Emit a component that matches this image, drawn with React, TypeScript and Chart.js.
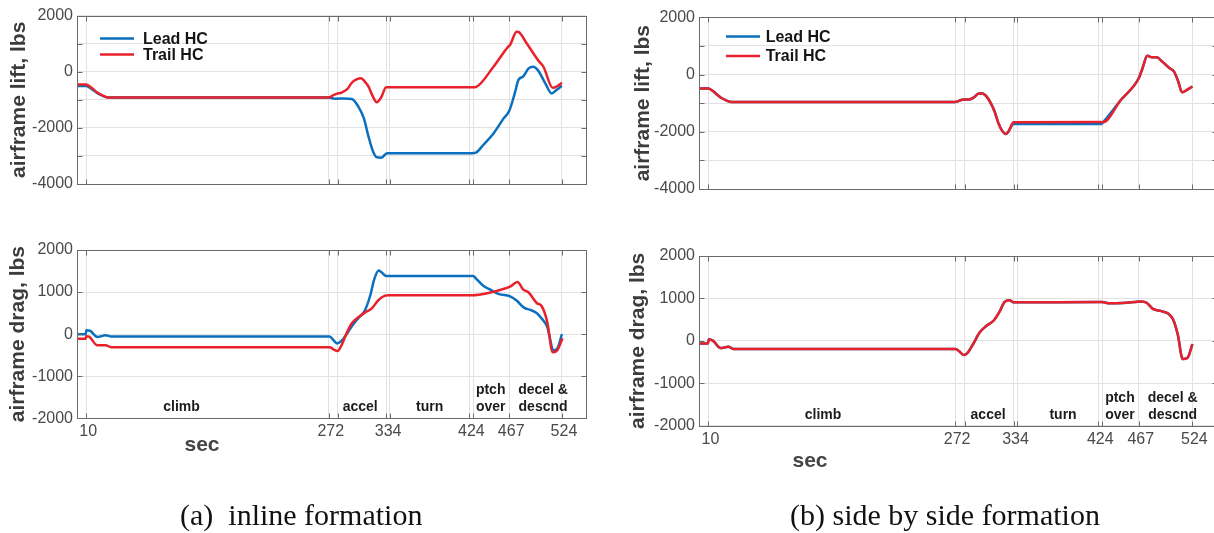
import React, { useEffect, useRef } from 'react';
import { Chart, registerables } from 'chart.js';
Chart.register(...registerables);

// ---------- shared axes ----------
const xTickValues = [10, 272, 282, 334, 338, 424, 428, 467, 524];
const xTickLabels = ['10', '272', '', '334', '', '424', '', '467', '524'];
const liftYTicks = [-4000, -3000, -2000, -1000, 0, 1000, 2000];
const liftYLabels = ['-4000', '', '-2000', '', '0', '', '2000'];
const dragYTicks = [-2000, -1000, 0, 1000, 2000];
const dragYLabels = ['-2000', '-1000', '0', '1000', '2000'];
const seriesNames = ['Lead HC', 'Trail HC'];

// ---------- (a) inline formation: lift ----------
const inlineLiftLeadT = [0, 10, 16, 22, 28, 34, 272, 280, 288, 297, 304, 310, 315, 320, 324, 329, 335, 427, 431, 439, 450, 461, 467, 473, 477, 482, 488, 493, 498, 506, 513, 518, 524];
const inlineLiftLeadV = [-510, -510, -620, -760, -860, -920, -920, -960, -950, -970, -1240, -1660, -2310, -2850, -3050, -3060, -2900, -2900, -2880, -2610, -2200, -1660, -1400, -770, -290, -170, 120, 180, 60, -410, -770, -650, -500];
const inlineLiftTrailT = [0, 10, 16, 22, 28, 34, 272, 277, 281, 286, 292, 297, 302, 307, 311, 315, 319, 324, 329, 334, 428, 431, 450, 466, 468, 475, 477, 486, 499, 504, 514, 519, 524];
const inlineLiftTrailV = [-450, -450, -580, -740, -850, -920, -920, -830, -780, -740, -620, -390, -270, -230, -350, -530, -830, -1090, -890, -550, -550, -540, 180, 900, 960, 1430, 1420, 1010, 380, 180, -570, -510, -390];

// ---------- (a) inline formation: drag ----------
const inlineDragLeadT = [0, 9.5, 10, 14, 22, 31, 37, 273, 277, 281, 286, 292, 297, 304, 311, 317, 321, 326, 329, 334, 428, 432, 439, 447, 456, 468, 475, 483, 490, 497, 502, 508, 515, 519, 524];
const inlineDragLeadV = [0, 0, 90, 80, -67, -28, -55, -55, -140, -220, -155, 20, 190, 380, 560, 930, 1290, 1510, 1470, 1380, 1380, 1300, 1150, 1050, 950, 900, 800, 630, 575, 495, 375, 180, -380, -340, 0];
const inlineDragTrailT = [0, 9.5, 10, 13, 22, 31, 37, 273, 277, 281.5, 286, 291.6, 297, 304, 311, 318.6, 325.8, 333, 337, 428, 443, 457, 468, 476, 482, 488, 497, 502, 508, 514, 519, 524.6];
const inlineDragTrailV = [-107, -107, -50, -60, -265, -265, -310, -310, -360, -400, -257, 36, 257, 400, 511, 614, 812, 915, 925, 925, 970, 1050, 1129, 1240, 1065, 990, 735, 670, 300, -430, -380, -100];

// ---------- (b) side by side formation: lift ----------
const sideLiftLeadT = [0, 10, 14, 23, 30, 34, 272, 276, 281, 287, 292, 297, 301, 305.5, 310, 314, 318, 322, 326, 329, 334, 427, 429, 448, 467, 471, 476, 481, 486, 492, 499, 504.5, 509, 513, 519, 524];
const sideLiftLeadV = [-490, -490, -560, -800, -920, -960, -960, -920, -870, -870, -800, -660, -660, -770, -1010, -1300, -1700, -1970, -2080, -1970, -1730, -1730, -1670, -890, -130, 220, 660, 600, 600, 450, 240, 100, -250, -620, -520, -420];
const sideLiftTrailT = [0, 10, 14, 23, 30, 34, 272, 276, 281, 287, 292, 297, 301, 305.5, 310, 314, 318, 322, 326, 329, 334, 427, 429, 448, 467, 471, 476, 481, 486, 492, 499, 504.5, 509, 513, 519, 524];
const sideLiftTrailV = [-490, -490, -560, -800, -920, -960, -960, -920, -870, -870, -800, -660, -660, -770, -1010, -1300, -1700, -1970, -2080, -1970, -1670, -1660, -1670, -890, -130, 220, 660, 600, 600, 450, 240, 100, -250, -620, -520, -420];

// ---------- (b) side by side formation: drag ----------
const sideDragLeadT = [0, 9.5, 10.5, 15, 23, 31, 37, 272.5, 276.6, 281, 284.7, 291, 298, 305, 313, 319.5, 324.4, 329.7, 334, 428, 436, 450, 462.6, 470, 475.7, 482, 491, 498.6, 503.5, 508.4, 513.7, 518.6, 524];
const sideDragLeadV = [-60, -60, 40, 0, -170, -140, -190, -190, -250, -335, -295, -80, 195, 350, 480, 700, 915, 955, 910, 915, 885, 893, 915, 930, 893, 753, 700, 637, 505, 155, -427, -404, -78];
const sideDragTrailT = [0, 9.5, 10.5, 15, 23, 31, 37, 272.5, 276.6, 281, 284.7, 291, 298, 305, 313, 319.5, 324.4, 329.7, 334, 428, 436, 450, 462.6, 470, 475.7, 482, 491, 498.6, 503.5, 508.4, 513.7, 518.6, 524];
const sideDragTrailV = [-60, -60, 40, 0, -170, -140, -190, -190, -250, -335, -295, -80, 195, 350, 480, 700, 915, 955, 910, 915, 885, 893, 915, 930, 893, 753, 700, 637, 505, 155, -427, -404, -78];

// ---------- phase annotations ----------
const phaseNames = [['climb'], ['accel'], ['turn'], ['ptch', 'over'], ['decel &', 'descnd']];
const inlinePhaseT = [113, 306, 381, 447, 503.6];
const sidePhaseT = [131.7, 307, 386.6, 447, 503];
const phaseLabelValue = -1740;

const BLUE = '#0A6FBE';
const RED = '#E8212B';
const GRID = '#e2e2e2';
const BOX = '#6b6b6b';
const SANS = "'Liberation Sans', Arial, Helvetica, sans-serif";
const Y_AXIS_W = 60;
const X_AXIS_H = 26;

type PanelCfg = {
  left: number; top: number; width: number; height: number;
  pad: { left: number; right: number; top: number; bottom: number };
  yMin: number; yMax: number; yTicks: number[]; yLabels: string[];
  yTitle: string; yTitleX: number;
  lead: [number[], number[]]; trail: [number[], number[]];
  showX: boolean;
  legend?: { x0: number; x1: number; tx: number; ys: number[] };
  phaseT?: number[];
  sec?: { x: number; y: number };
};

// pad = distances from canvas edges to the plot box
const panels: PanelCfg[] = [
  {
    left: 0, top: 0, width: 607, height: 230,
    pad: { left: 77, right: 21, top: 15.7, bottom: 46 },
    yMin: -4000, yMax: 2000, yTicks: liftYTicks, yLabels: liftYLabels,
    yTitle: 'airframe lift, lbs', yTitleX: 19,
    lead: [inlineLiftLeadT, inlineLiftLeadV], trail: [inlineLiftTrailT, inlineLiftTrailV],
    showX: false,
    legend: { x0: 100, x1: 134, tx: 143, ys: [38.5, 54.5] },
  },
  {
    left: 0, top: 230, width: 607, height: 303,
    pad: { left: 77, right: 21, top: 20, bottom: 114.7 },
    yMin: -2000, yMax: 2000, yTicks: dragYTicks, yLabels: dragYLabels,
    yTitle: 'airframe drag, lbs', yTitleX: 18,
    lead: [inlineDragLeadT, inlineDragLeadV], trail: [inlineDragTrailT, inlineDragTrailV],
    showX: true, phaseT: inlinePhaseT, sec: { x: 202, y: 215 },
  },
  {
    left: 607, top: 0, width: 620, height: 230,
    pad: { left: 92, right: 10.1, top: 17.3, bottom: 41 },
    yMin: -4000, yMax: 2000, yTicks: liftYTicks, yLabels: liftYLabels,
    yTitle: 'airframe lift, lbs', yTitleX: 36,
    lead: [sideLiftLeadT, sideLiftLeadV], trail: [sideLiftTrailT, sideLiftTrailV],
    showX: false,
    legend: { x0: 119, x1: 153, tx: 158.7, ys: [36.5, 56] },
  },
  {
    left: 607, top: 230, width: 620, height: 303,
    pad: { left: 92, right: 10.1, top: 26, bottom: 107.3 },
    yMin: -2000, yMax: 2000, yTicks: dragYTicks, yLabels: dragYLabels,
    yTitle: 'airframe drag, lbs', yTitleX: 31,
    lead: [sideDragLeadT, sideDragLeadV], trail: [sideDragTrailT, sideDragTrailV],
    showX: true, phaseT: sidePhaseT, sec: { x: 203, y: 231 },
  },
];

function zip(t: number[], v: number[]) {
  return t.map((x, i) => ({ x, y: v[i] }));
}

function overlay(p: PanelCfg) {
  return {
    id: 'overlay',
    afterDraw(chart: any) {
      const ctx = chart.ctx as CanvasRenderingContext2D;
      const a = chart.chartArea;
      const xs = chart.scales.x;
      const ys = chart.scales.y;
      ctx.save();
      ctx.strokeStyle = BOX;
      ctx.lineWidth = 1;
      const L = Math.round(a.left) + 0.5, R = Math.round(a.right) + 0.5;
      const T = Math.round(a.top) + 0.5, B = Math.round(a.bottom) + 0.5;
      ctx.strokeRect(L, T, R - L, B - T);
      ctx.beginPath();
      for (const v of xTickValues) {
        const px = Math.round(xs.getPixelForValue(v)) + 0.5;
        ctx.moveTo(px, B); ctx.lineTo(px, B - 5);
        ctx.moveTo(px, T); ctx.lineTo(px, T + 5);
      }
      for (const v of p.yTicks) {
        const py = Math.round(ys.getPixelForValue(v)) + 0.5;
        ctx.moveTo(L, py); ctx.lineTo(L + 5, py);
        ctx.moveTo(R, py); ctx.lineTo(R - 5, py);
      }
      ctx.stroke();
      ctx.save();
      ctx.translate(p.yTitleX, (a.top + a.bottom) / 2);
      ctx.rotate(-Math.PI / 2);
      ctx.fillStyle = '#3c3c3c';
      ctx.font = `bold 21px ${SANS}`;
      ctx.textAlign = 'center';
      ctx.textBaseline = 'middle';
      ctx.fillText(p.yTitle, 0, 0);
      ctx.restore();
      if (p.legend) {
        const lg = p.legend;
        [BLUE, RED].forEach((c, i) => {
          ctx.strokeStyle = c;
          ctx.lineWidth = 2.5;
          ctx.beginPath();
          ctx.moveTo(lg.x0, lg.ys[i]);
          ctx.lineTo(lg.x1, lg.ys[i]);
          ctx.stroke();
          ctx.fillStyle = '#151515';
          ctx.font = `bold 16px ${SANS}`;
          ctx.textAlign = 'left';
          ctx.textBaseline = 'middle';
          ctx.fillText(seriesNames[i], lg.tx, lg.ys[i] + 1);
        });
      }
      if (p.phaseT) {
        ctx.fillStyle = '#1c1c1c';
        ctx.font = `bold 14px ${SANS}`;
        ctx.textAlign = 'center';
        ctx.textBaseline = 'middle';
        const baseY = ys.getPixelForValue(phaseLabelValue);
        p.phaseT.forEach((t, i) => {
          const lines = phaseNames[i];
          const px = xs.getPixelForValue(t);
          lines.forEach((ln, j) => {
            ctx.fillText(ln, px, baseY - (lines.length - 1 - j) * 17);
          });
        });
      }
      if (p.sec) {
        ctx.fillStyle = '#444444';
        ctx.font = `bold 21px ${SANS}`;
        ctx.textAlign = 'center';
        ctx.textBaseline = 'middle';
        ctx.fillText('sec', p.sec.x, p.sec.y);
      }
      ctx.restore();
    },
  };
}

function Panel({ p }: { p: PanelCfg }) {
  const ref = useRef<HTMLCanvasElement>(null);
  useEffect(() => {
    if (!ref.current) return;
    const tickFont = { family: SANS, size: 16 };
    const xh = p.showX ? X_AXIS_H : 0;
    const chart = new Chart(ref.current, {
      type: 'line',
      data: {
        datasets: [
          {
            label: seriesNames[0], data: zip(p.lead[0], p.lead[1]),
            borderColor: BLUE, borderWidth: 2.5, pointRadius: 0,
            cubicInterpolationMode: 'monotone', order: 2,
          },
          {
            label: seriesNames[1], data: zip(p.trail[0], p.trail[1]),
            borderColor: RED, borderWidth: 2.5, pointRadius: 0,
            cubicInterpolationMode: 'monotone', order: 1,
          },
        ],
      },
      options: {
        animation: false,
        responsive: false,
        devicePixelRatio: 1,
        events: [],
        layout: {
          padding: {
            left: p.pad.left - Y_AXIS_W, right: p.pad.right,
            top: p.pad.top, bottom: p.pad.bottom - xh,
          },
        },
        plugins: { legend: { display: false }, tooltip: { enabled: false }, title: { display: false } },
        scales: {
          x: {
            type: 'linear', min: 0, max: 550,
            afterBuildTicks: (s: any) => { s.ticks = xTickValues.map((value) => ({ value })); },
            afterFit: (s: any) => { s.height = xh; },
            grid: { color: GRID, drawTicks: false, lineWidth: 1 },
            border: { display: false },
            ticks: {
              display: p.showX, autoSkip: false, maxRotation: 0, minRotation: 0,
              padding: 4, labelOffset: 2,
              font: tickFont, color: '#4a4a4a',
              callback: (v: any) => xTickLabels[xTickValues.indexOf(Number(v))] ?? '',
            },
          },
          y: {
            type: 'linear', min: p.yMin, max: p.yMax,
            afterBuildTicks: (s: any) => { s.ticks = p.yTicks.map((value) => ({ value })); },
            afterFit: (s: any) => { s.width = Y_AXIS_W; },
            grid: { color: GRID, drawTicks: false, lineWidth: 1 },
            border: { display: false },
            ticks: {
              autoSkip: false, padding: 4,
              font: tickFont, color: '#4a4a4a',
              callback: (v: any) => p.yLabels[p.yTicks.indexOf(Number(v))] ?? '',
            },
          },
        },
      },
      plugins: [overlay(p)],
    } as any);
    return () => chart.destroy();
  }, [p]);
  return (
    <canvas
      ref={ref}
      width={p.width}
      height={p.height}
      style={{ position: 'absolute', left: p.left, top: p.top, width: p.width, height: p.height, display: 'block' }}
    />
  );
}

const captionStyle: React.CSSProperties = {
  position: 'absolute', top: 500, fontFamily: "'Liberation Serif', 'Times New Roman', serif",
  fontSize: 30, lineHeight: '30px', color: '#111', whiteSpace: 'pre',
};

export default function App() {
  return (
    <div style={{ position: 'fixed', left: 0, top: 0, width: 1214, height: 533, overflow: 'hidden', background: '#fff' }}>
      {panels.map((p, i) => <Panel key={i} p={p} />)}
      <div style={{ ...captionStyle, left: 180 }}>(a)  inline formation</div>
      <div style={{ ...captionStyle, left: 790 }}>(b) side by side formation</div>
    </div>
  );
}
